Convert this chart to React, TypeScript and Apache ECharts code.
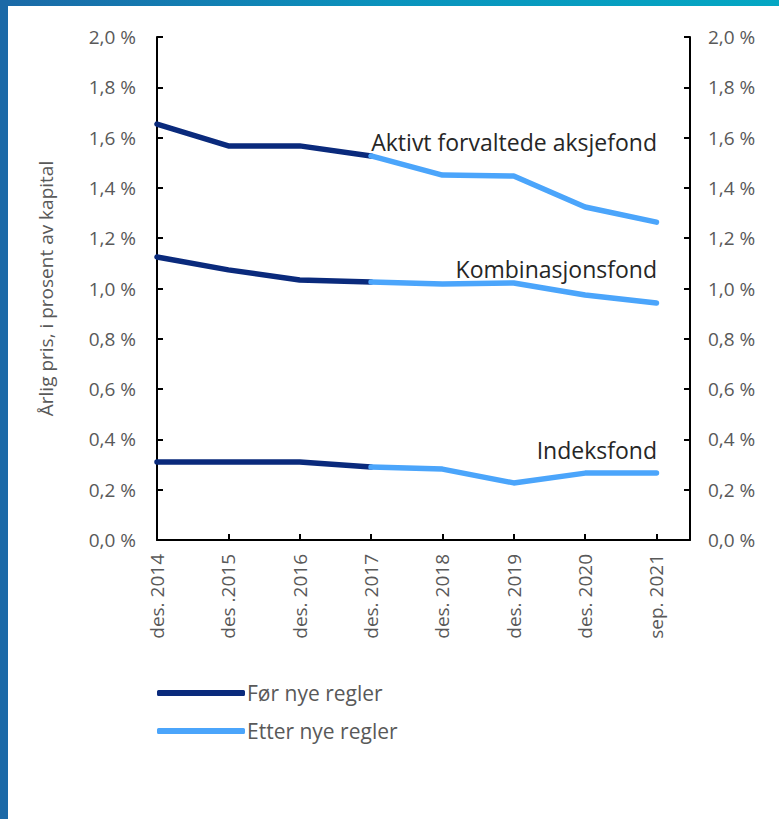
import React, { useEffect, useRef } from "react";
import * as echarts from "echarts";

const categories = ["des. 2014", "des .2015", "des. 2016", "des. 2017", "des. 2018", "des. 2019", "des. 2020", "sep. 2021"];
const aktivt = [1.654, 1.567, 1.567, 1.527, 1.451, 1.447, 1.324, 1.264];
const kombinasjon = [1.125, 1.074, 1.034, 1.026, 1.018, 1.022, 0.974, 0.942];
const indeks = [0.31, 0.31, 0.31, 0.29, 0.282, 0.227, 0.266, 0.266];
const fundNames = ["Aktivt forvaltede aksjefond", "Kombinasjonsfond", "Indeksfond"];
const labelOffsets = [-80, -34, -23];
const splitIndex = 3;
const yTicks = { min: 0, max: 2, interval: 0.2 };
const legendNames = ["Før nye regler", "Etter nye regler"];

const DARK = "#0a2a7c";
const LIGHT = "#4ba5fb";
const FONT = "'Open Sans', 'Noto Sans', sans-serif";
const GREY = "#595959";

export default function App() {
  const ref = useRef<HTMLDivElement>(null);
  useEffect(() => {
    const chart = echarts.init(ref.current!, undefined, { renderer: "svg" });
    const funds = [aktivt, kombinasjon, indeks];
    const series: any[] = [];
    funds.forEach((vals, fi) => {
      const before = vals.slice(0, splitIndex + 1).map((v, i) => [i, v]);
      const after: any[] = vals.slice(splitIndex).map((v, i) => [i + splitIndex, v]);
      const last = after[after.length - 1];
      after[after.length - 1] = {
        value: last,
        symbolSize: 1,
        itemStyle: { color: "rgba(0,0,0,0)" },
        label: {
          show: true,
          formatter: fundNames[fi],
          position: [0, 0],
          align: "right",
          verticalAlign: "middle",
          offset: [1, labelOffsets[fi]],
          fontSize: 23,
          fontFamily: FONT,
          color: "#262626",
        },
      };
      const common = {
        type: "line",
        symbol: "circle",
        symbolSize: 0,
        showSymbol: true,
        silent: true,
        emphasis: { disabled: true },
        z: 3,
      };
      series.push({
        ...common,
        name: legendNames[0],
        color: DARK,
        lineStyle: { width: 5.5, color: DARK, cap: "round", join: "round" },
        data: before,
      });
      series.push({
        ...common,
        name: legendNames[1],
        color: LIGHT,
        lineStyle: { width: 5.5, color: LIGHT, cap: "round", join: "round" },
        data: after,
      });
    });
    const pct = (v: number) => v.toFixed(1).replace(".", ",") + " %";
    const yCommon = {
      type: "value",
      min: yTicks.min,
      max: yTicks.max,
      interval: yTicks.interval,
      splitLine: { show: false },
      axisLine: { show: true, lineStyle: { color: "#000", width: 2 } },
      axisTick: { show: true, inside: true, length: 6, lineStyle: { color: "#000", width: 2 } },
      axisLabel: { formatter: pct, fontSize: 19, fontFamily: FONT, color: GREY },
    };
    chart.setOption({
      animation: false,
      backgroundColor: "#fff",
      grid: { left: 157, right: 89, top: 37, bottom: 279, containLabel: false },
      xAxis: {
        type: "value",
        min: 0,
        max: 7.47,
        interval: 1,
        splitLine: { show: false },
        axisLine: { show: true, lineStyle: { color: "#000", width: 2 } },
        axisTick: { show: true, inside: true, length: 6, lineStyle: { color: "#000", width: 2 } },
        axisLabel: {
          rotate: 90,
          margin: 14,
          fontSize: 19,
          fontFamily: FONT,
          color: GREY,
          showMaxLabel: false,
          formatter: (v: number) => (Number.isInteger(v) ? categories[v] ?? "" : ""),
        },
      },
      yAxis: [
        {
          ...yCommon,
          position: "left",
          axisLabel: { ...yCommon.axisLabel, margin: 21 },
          name: "Årlig pris, i prosent av kapital",
          nameLocation: "middle",
          nameRotate: 90,
          nameGap: 102,
          nameTextStyle: { fontSize: 19, fontFamily: FONT, color: GREY },
        },
        {
          ...yCommon,
          position: "right",
          axisLabel: { ...yCommon.axisLabel, margin: 18 },
        },
      ],
      legend: {
        data: legendNames,
        orient: "vertical",
        left: 157,
        top: 682,
        padding: 0,
        itemWidth: 88,
        itemHeight: 6,
        itemGap: 16,
        icon: "roundRect",
        selectedMode: false,
        textStyle: { fontSize: 21, fontFamily: FONT, color: GREY, lineHeight: 22, padding: [0, 0, 0, -3] },
      },
      series,
    });
    return () => chart.dispose();
  }, []);
  return (
    <div style={{ position: "fixed", left: 0, top: 0, width: 779, height: 819, background: "#fff", overflow: "hidden" }}>
      <div style={{ position: "absolute", left: 0, top: 0, width: 779, height: 6, background: "linear-gradient(90deg, #1b69a7 0%, #0a93bd 50%, #04a7c3 100%)", zIndex: 2 }} />
      <div style={{ position: "absolute", left: 0, top: 0, width: 8, height: 819, background: "#1b69a7", zIndex: 2 }} />
      <div ref={ref} style={{ position: "absolute", left: 0, top: 0, width: 779, height: 819 }} />
    </div>
  );
}
